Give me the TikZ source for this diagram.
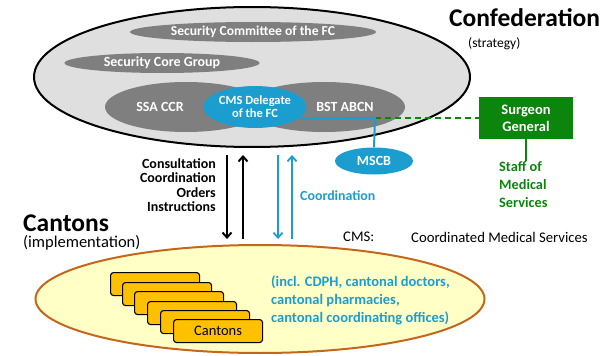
\documentclass[tikz,border=0pt]{standalone}
\usepackage{fontspec}
\setmainfont{Carlito}
\usetikzlibrary{shapes.geometric,arrows.meta}
\definecolor{cblue}{HTML}{1B9DD0}
\definecolor{cgreen}{HTML}{0B850B}
\definecolor{cgray}{HTML}{7F7F7F}
\definecolor{lgray}{HTML}{DFDFDF}
\definecolor{cyell}{HTML}{FFFFC6}
\definecolor{corange}{HTML}{C4661C}
\definecolor{cbox}{HTML}{FFC000}
\tikzset{
  inner/.style={ellipse,fill=cgray,inner sep=0pt,text=white,font=\bfseries\fontsize{14}{15}\selectfont},
  blueell/.style={ellipse,fill=cblue,inner sep=0pt,text=white,font=\bfseries\fontsize{13}{14}\selectfont,align=center},
  canton/.style={draw=black,line width=1.1pt,fill=cbox,rounded corners=3pt,minimum width=89pt,minimum height=23pt,inner sep=0pt,anchor=north west,font=\fontsize{14.5}{15}\selectfont},
  lbl/.style={font=\bfseries\fontsize{14}{15}\selectfont,inner sep=0pt},
  barr/.style={line width=2.4pt,-{Straight Barb[length=5pt,width=9pt,line width=2pt]}},
  carr/.style={cblue,line width=2pt,-{Straight Barb[length=5pt,width=9pt,line width=1.8pt]}},
}
\begin{document}
\begin{tikzpicture}[x=1pt,y=-1pt]
\useasboundingbox (0,0) rectangle (606,356);
% Confederation ellipse
\node[ellipse,draw=black,line width=2pt,fill=lgray,minimum width=436pt,minimum height=140pt,inner sep=0pt] (conf) at (252,77) {};
\node[inner,minimum width=246pt,minimum height=20pt,font=\bfseries\fontsize{13.6}{14}\selectfont] (sc) at (253,32) {Security Committee of the FC};
\node[inner,minimum width=195pt,minimum height=20pt] (scg) at (162,63) {Security Core Group};
\node[inner,minimum width=162pt,minimum height=50pt] (ssa) at (186,107) {};
\node[inner,minimum width=162pt,minimum height=50pt] (bst) at (324,107) {};
\node[lbl,text=white] (tssa) at (160,107) {SSA CCR};
\node[lbl,text=white] (tbst) at (345,107) {BST ABCN};
\node[blueell,minimum width=103pt,minimum height=42pt,font=\bfseries\fontsize{12.5}{13}\selectfont] (cmsd) at (255,107) {CMS Delegate\\[0pt]of the FC};
% MSCB and Surgeon General
\node[blueell,minimum width=78pt,minimum height=27pt,font=\bfseries\fontsize{14}{15}\selectfont] (mscb) at (374,161) {MSCB};
\coordinate (j) at (375,118);
\node[fill=cgreen,minimum width=94pt,minimum height=42pt,inner sep=0pt,text=white,align=center,font=\bfseries\fontsize{14.5}{17}\selectfont] (sg) at (526,118) {Surgeon\\General};
\draw[cgreen,line width=2pt,dash pattern=on 6pt off 4pt] (j) -- (sg.west);
\draw[cblue,line width=2pt] (cmsd.-15) -- (j) -- (mscb.north);
\node[lbl,text=cgreen,align=left,anchor=north west,font=\bfseries\fontsize{14.3}{18}\selectfont] (staff) at (499,161) {Staff of\\Medical\\Services};
\draw[cgreen,line width=2pt] (sg.south) -- (sg.south |- staff.north);
% titles
\node[inner sep=0pt,anchor=west,font=\bfseries\fontsize{25.5}{26}\selectfont] (tconf) at (449,18) {Confederation};
\node[inner sep=0pt,anchor=west,font=\fontsize{13.5}{14}\selectfont] (tstrat) at (468,44) {(strategy)};
\node[inner sep=0pt,anchor=base west,text depth=0pt,font=\bfseries\fontsize{25.5}{26}\selectfont] (tcant) at (23,231) {Cantons};
\node[inner sep=0pt,anchor=west,font=\fontsize{16.5}{17}\selectfont] (timpl) at (23,243) {(implementation)};
% arrows
\coordinate (a1t) at (227,155); \coordinate (a1b) at (227,239);
\coordinate (a2t) at (243,155); \coordinate (a2b) at (243,239);
\coordinate (a3t) at (278,155); \coordinate (a3b) at (278,239);
\coordinate (a4t) at (292,155); \coordinate (a4b) at (292,239);
\draw[barr] (a1t) -- (a1b);
\draw[barr] (a2b) -- (a2t);
\draw[carr] (a3t) -- (a3b);
\draw[carr] (a4b) -- (a4t);
\node[lbl,align=right,anchor=north east,font=\bfseries\fontsize{14}{14.6}\selectfont] (cons) at (216,158) {Consultation\\Coordination\\Orders\\Instructions};
\node[lbl,text=cblue,anchor=west,font=\bfseries\fontsize{13.9}{14}\selectfont] (coord) at (300,196) {Coordination};
\node[inner sep=0pt,anchor=west,font=\fontsize{14.7}{15}\selectfont] (cms) at (343,237) {CMS:};
\node[inner sep=0pt,anchor=west,font=\fontsize{14.7}{15}\selectfont] (cmsx) at (411,237) {Coordinated Medical Services};
% Cantons ellipse
\node[ellipse,draw=corange,line width=2pt,fill=cyell,minimum width=449pt,minimum height=108pt,inner sep=0pt] (cell) at (260,299) {};
\node[canton] (b1) at (110,272) {};
\node[canton] (b2) at (122,282) {};
\node[canton] (b3) at (134,291) {};
\node[canton] (b4) at (147,301) {};
\node[canton] (b5) at (160,310) {};
\node[canton] (b6) at (173,319) {Cantons};
\node[lbl,text=cblue,align=left,anchor=north west,font=\bfseries\fontsize{14.5}{18}\selectfont] (incl) at (271,276) {(incl. CDPH, cantonal doctors,\\cantonal pharmacies,\\cantonal coordinating offices)};
\end{tikzpicture}
\end{document}
